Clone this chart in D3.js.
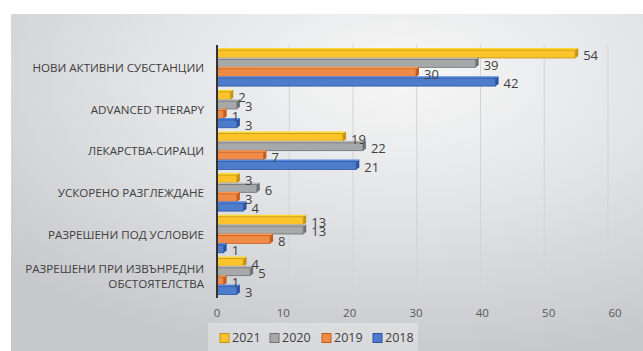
<!DOCTYPE html>
<html>
<head>
<meta charset="utf-8">
<script src="https://cdn.jsdelivr.net/npm/d3@7"></script>
<style>
  body { margin: 0; background: #fff; }
  text { font-family: "Open Sans", sans-serif; }
</style>
</head>
<body>
<div id="chart"></div>
<script>
// categories (top to bottom)
var categories = [
  ["НОВИ АКТИВНИ СУБСТАНЦИИ"],
  ["ADVANCED THERAPY"],
  ["ЛЕКАРСТВА-СИРАЦИ"],
  ["УСКОРЕНО РАЗГЛЕЖДАНЕ"],
  ["РАЗРЕШЕНИ ПОД УСЛОВИЕ"],
  ["РАЗРЕШЕНИ ПРИ ИЗВЪНРЕДНИ", "ОБСТОЯТЕЛСТВА"]
]
var years = ["2021", "2020", "2019", "2018"]
var v2021 = [54, 2, 19, 3, 13, 4]
var v2020 = [39, 3, 22, 6, 13, 5]
var v2019 = [30, 1, 7, 3, 8, 1]
var v2018 = [42, 3, 21, 4, 1, 3]
var xTicks = [0, 10, 20, 30, 40, 50, 60]

var colors = { "2021": "#fcc32a", "2020": "#a7a8aa", "2019": "#f08a47", "2018": "#4d7ccc" }
var edges = { "2021": "#c39412", "2020": "#6f7072", "2019": "#c45d1c", "2018": "#2c52a0" }

var series = { "2021": v2021, "2020": v2020, "2019": v2019, "2018": v2018 }

let width = 643
let height = 351

let svg = d3.select("#chart")
  .append("svg")
  .attr("width", width)
  .attr("height", height)

var defs = svg.append("defs")
var bg = defs.append("radialGradient")
  .attr("id", "bg")
  .attr("cx", "0.62").attr("cy", "0.18").attr("r", "0.85")
bg.append("stop").attr("offset", "0").attr("stop-color", "#f7f7f7")
bg.append("stop").attr("offset", "0.45").attr("stop-color", "#e4e5e7")
bg.append("stop").attr("offset", "1").attr("stop-color", "#c6c8cb")

// panel
svg.append("rect")
  .attr("x", 11).attr("y", 14)
  .attr("width", width - 11).attr("height", height - 14)
  .attr("fill", "url(#bg)")

// scales
var x = d3.scaleLinear().domain([0, 60]).range([217, 615])
var y = d3.scaleBand().domain(d3.range(categories.length)).range([47, 297]).paddingInner(0.1).paddingOuter(0.05)
var yy = d3.scaleBand().domain(years).range([0, y.bandwidth()])

// back wall gridlines (slightly in perspective)
var back = function(v) { return 17 + 0.961 * x(v) }
svg.append("g")
  .selectAll("path")
  .data(xTicks.slice(1))
  .enter().append("path")
    .attr("d", d => "M" + back(d) + ",45 L" + back(d) + ",289 L" + x(d) + ",297")
    .attr("fill", "none")
    .attr("stroke", "#d2d3d5")
    .attr("stroke-width", 1)

// bars
var depth = 3, rise = 2
var groups = svg.append("g")
  .selectAll("g")
  .data(categories)
  .enter().append("g")
    .attr("transform", (d, i) => "translate(0," + y(i) + ")")

years.forEach(function(yr) {
  var bars = groups.append("g")
  bars.each(function(d, i) {
    var g = d3.select(this)
    var val = series[yr][i]
    var x0 = x(0), x1 = x(val)
    var y0 = yy(yr) + 1, h = yy.bandwidth() - 1.5
    // side
    g.append("path")
      .attr("d", "M" + x1 + "," + y0 + " L" + (x1 + depth) + "," + (y0 - rise) + " L" + (x1 + depth) + "," + (y0 + h - rise) + " L" + x1 + "," + (y0 + h) + "Z")
      .attr("fill", edges[yr])
    // top
    g.append("path")
      .attr("d", "M" + x0 + "," + y0 + " L" + (x0 + depth) + "," + (y0 - rise) + " L" + (x1 + depth) + "," + (y0 - rise) + " L" + x1 + "," + y0 + "Z")
      .attr("fill", d3.color(colors[yr]).brighter(0.3))
    // front
    g.append("rect")
      .attr("x", x0).attr("y", y0)
      .attr("width", x1 - x0).attr("height", h)
      .attr("fill", colors[yr])
      .attr("stroke", edges[yr])
      .attr("stroke-width", 0.8)
  })
})

// value labels
years.forEach(function(yr) {
  groups.append("text")
    .attr("x", (d, i) => x(series[yr][i]) + 8)
    .attr("y", yy(yr) + yy.bandwidth() / 2 + 2)
    .attr("dy", "0.35em")
    .style("font-size", "13px")
    .attr("fill", "#404040")
    .text((d, i) => series[yr][i])
})

// axis line
svg.append("line")
  .attr("x1", x(0)).attr("x2", x(0))
  .attr("y1", 45).attr("y2", 298)
  .attr("stroke", "#333")
  .attr("stroke-width", 2)

// category labels
svg.append("g")
  .selectAll("text")
  .data(categories)
  .enter().append("text")
    .attr("text-anchor", "end")
    .attr("x", 204)
    .attr("y", (d, i) => y(i) + y.bandwidth() / 2 - (d.length - 1) * 7)
    .style("font-size", "11.6px")
    .attr("fill", "#404040")
    .each(function(d) {
      var t = d3.select(this)
      d.forEach(function(line, k) {
        t.append("tspan")
          .attr("x", 204)
          .attr("dy", k == 0 ? "0.35em" : "14.5px")
          .text(line)
      })
    })

// x tick labels
svg.append("g")
  .selectAll("text")
  .data(xTicks)
  .enter().append("text")
    .attr("x", d => x(d))
    .attr("y", 313)
    .attr("dy", "0.35em")
    .attr("text-anchor", "middle")
    .style("font-size", "11.5px")
    .attr("fill", "#595959")
    .text(d => d)

// legend
var legend = svg.append("g")
legend.append("rect")
  .attr("x", 208).attr("y", 323)
  .attr("width", 210).attr("height", 28)
  .attr("fill", "#ffffff").attr("fill-opacity", 0.3)
var lx = [220, 270, 322, 373]
var item = legend.selectAll("g")
  .data(years)
  .enter().append("g")
    .attr("transform", (d, i) => "translate(" + lx[i] + ",338)")
item.append("rect")
  .attr("x", 0).attr("y", -4.5)
  .attr("width", 9).attr("height", 9)
  .attr("fill", d => colors[d])
  .attr("stroke", d => edges[d])
item.append("text")
  .attr("x", 12)
  .attr("dy", "0.35em")
  .style("font-size", "12.5px")
  .attr("fill", "#404040")
  .text(d => d)
</script>
</body>
</html>
